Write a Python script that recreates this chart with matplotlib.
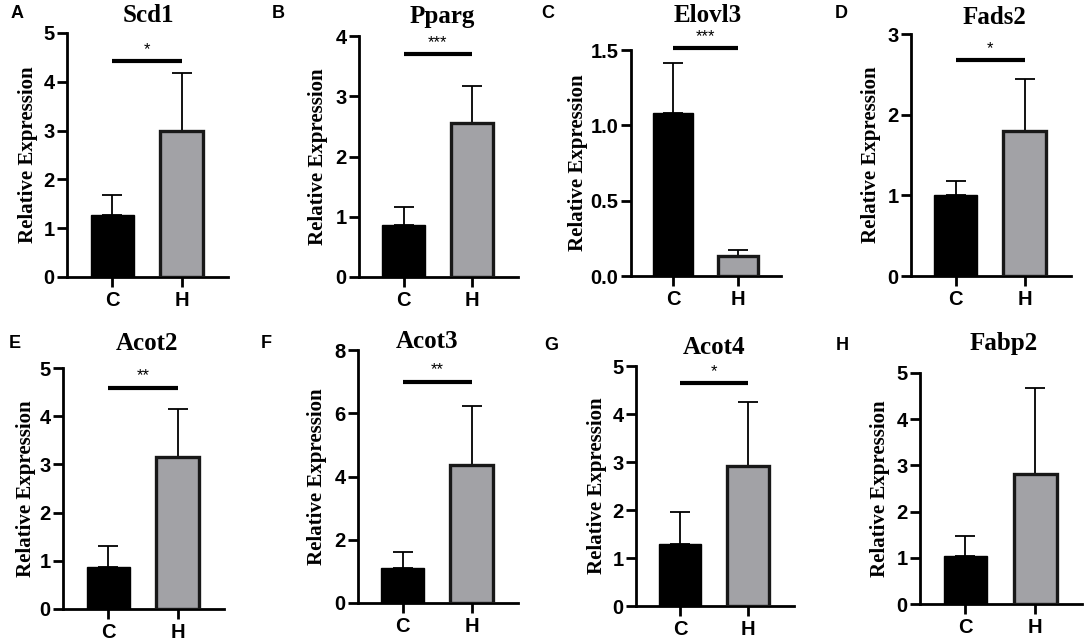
import numpy as np
import matplotlib
matplotlib.use('Agg')
import matplotlib.pyplot as plt

SERIF = 'Liberation Serif'
SANS = 'Liberation Sans'

# data
genes = ['Scd1', 'Pparg', 'Elovl3', 'Fads2', 'Acot2', 'Acot3', 'Acot4', 'Fabp2']
panel_letters = ['A', 'B', 'C', 'D', 'E', 'F', 'G', 'H']
groups = ['C', 'H']
ctrl_mean = [1.28, 0.87, 1.08, 1.00, 0.87, 1.10, 1.30, 1.04]
ctrl_sd = [0.40, 0.30, 0.335, 0.18, 0.43, 0.50, 0.65, 0.44]
hfd_mean = [3.00, 2.56, 0.13, 1.80, 3.16, 4.37, 2.92, 2.81]
hfd_sd = [1.19, 0.61, 0.045, 0.645, 0.98, 1.86, 1.32, 1.86]
y_max = [5, 4, 1.5, 3, 5, 8, 5, 5]
y_step = [1, 1, 0.5, 1, 1, 2, 1, 1]
sig_labels = ['*', '***', '***', '*', '**', '**', '*', '']
sig_y = [4.42, 3.70, 1.51, 2.68, 4.59, 7.0, 4.64, None]

# layout in pixels: axes (left, right, top, zero-line), title, letter, ylabel x
W, H = 1084, 642
AX_BOX = [(67, 228, 33, 277), (359, 518, 36, 277), (631, 781, 50, 276), (911, 1071, 34, 276),
          (63, 224, 368, 609), (358, 518, 350, 603), (636, 794, 366, 606), (920, 1082, 373, 604)]
TITLE_XY = [(148, 16), (442, 17), (708, 15), (994, 17),
            (147, 343), (427, 342), (714, 347), (1004, 344)]
LETTER_XY = [(17, 14), (278, 14), (548, 14), (841, 14),
             (15, 343), (266, 343), (551, 345), (842, 345)]
YLABEL_X = [28, 318, 578, 871, 26, 317, 597, 880]

BAR_STYLING = {
    'width': 0.62,
    'zorder': 3,
}

ERR_STYLING = {
    'fmt': 'none',
    'ecolor': 'black',
    'elinewidth': 1.3,
    'capsize': 7,
    'capthick': 1.3,
    'zorder': 2,
}

TICK_FONT = {'family': SANS, 'weight': 'bold', 'size': 14.5}

fig = plt.figure(figsize=(W / 100, H / 100), dpi=100)


def fx(x):
    return x / W


def fy(y):
    return 1 - y / H


for i, gene in enumerate(genes):
    l, r, t, b = AX_BOX[i]
    ax = fig.add_axes([fx(l), fy(b), (r - l) / W, (b - t) / H])

    xs = np.arange(len(groups))
    means = [ctrl_mean[i], hfd_mean[i]]
    sds = [ctrl_sd[i], hfd_sd[i]]

    ax.errorbar(xs, means, yerr=[[0, 0], sds], **ERR_STYLING)
    ax.bar(xs, means, color=['black', '#a2a2a6'], edgecolor=['black', '#181818'],
           linewidth=[1.0, 2.4], **BAR_STYLING)

    ax.set_xlim(-0.65, 1.67)
    ax.set_ylim(0, y_max[i])
    yt = np.arange(0, y_max[i] + 1e-9, y_step[i])
    ax.set_yticks(yt)
    if y_step[i] < 1:
        ax.set_yticklabels([f'{v:.1f}' for v in yt], fontdict=TICK_FONT)
    else:
        ax.set_yticklabels([f'{int(v)}' for v in yt], fontdict=TICK_FONT)
    ax.set_xticks(xs)
    ax.set_xticklabels(groups, fontdict=TICK_FONT)

    for side in ('top', 'right'):
        ax.spines[side].set_visible(False)
    for side in ('left', 'bottom'):
        ax.spines[side].set_linewidth(2.0)
    ax.tick_params(axis='y', length=7, width=2.0, pad=2)
    ax.tick_params(axis='x', length=7, width=2.0, pad=3)

    if sig_labels[i]:
        ax.plot([0, 1], [sig_y[i], sig_y[i]], color='black', lw=3,
                solid_capstyle='butt', clip_on=False, zorder=4)
        ax.annotate(sig_labels[i], xy=(0.5, sig_y[i]), xytext=(0, 3),
                    textcoords='offset points', ha='center', va='bottom',
                    fontsize=12, family=SANS, annotation_clip=False)

    tx, ty = TITLE_XY[i]
    fig.text(fx(tx), fy(ty), gene, ha='center', va='center',
             family=SERIF, weight='bold', fontsize=18)
    lx, ly = LETTER_XY[i]
    fig.text(fx(lx), fy(ly), panel_letters[i], ha='center', va='center',
             family=SANS, weight='bold', fontsize=13)
    fig.text(fx(YLABEL_X[i]), fy((t + b) / 2), 'Relative Expression', rotation=90,
             ha='center', va='center', family=SERIF, weight='bold', fontsize=15)

fig.savefig('out.png', dpi=100, facecolor='white')
